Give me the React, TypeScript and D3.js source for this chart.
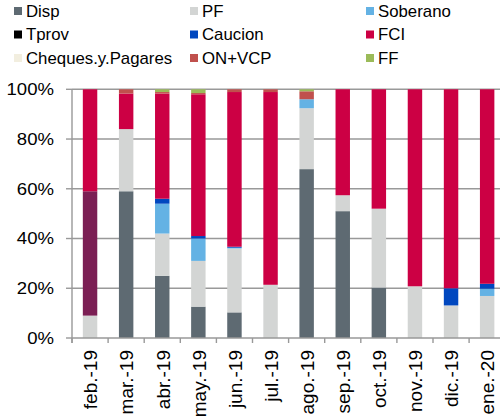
import React, { useEffect, useRef } from "react";
import * as d3 from "d3";

const months = ["feb.-19","mar.-19","abr.-19","may.-19","jun.-19","jul.-19","ago.-19","sep.-19","oct.-19","nov.-19","dic.-19","ene.-20"];
const seriesNames = ["Disp","PF","Soberano","Tprov","Caucion","Otro","FCI","Cheques.y.Pagares","ON+VCP","FF"];
const legendNames = ["Disp","PF","Soberano","Tprov","Caucion","FCI","Cheques.y.Pagares","ON+VCP","FF"];
const colors: Record<string,string> = {
  "Disp":"#5E6A72","PF":"#D3D5D4","Soberano":"#64B2E4","Tprov":"#000000","Caucion":"#0047BF",
  "Otro":"#7B1F54","FCI":"#CC0044","Cheques.y.Pagares":"#F2EEDF","ON+VCP":"#C0504D","FF":"#9BBB59"
};
const disp = [0,59,25,12.6,10.3,0,67.9,51,20.3,0,0,0];
const pf = [9,25,17,18.4,25.7,21.4,24.5,6.4,31.7,20.8,13.1,16.9];
const soberano = [0,0,12,9,0.3,0,3.6,0,0,0,0,2.9];
const tprov = [0,0,0,0,0,0,0,0,0,0,0,0];
const caucion = [0,0,2,1,0.4,0,0,0,0,0,6.9,2];
const otro = [50,0,0,0,0,0,0,0,0,0,0,0];
const fci = [41,14.3,42.3,57,62.2,77.5,0,42.6,48,79.2,80,78.2];
const cheques = [0,0,0,0,0,0,0,0,0,0,0,0];
const onvcp = [0,1.7,0.6,0.5,1.1,1.1,3.2,0,0,0,0,0];
const ff = [0,0,1.1,1.5,0,0,0.8,0,0,0,0,0];
const yTicks = [0,20,40,60,80,100];

export default function App() {
  const ref = useRef<SVGSVGElement>(null);
  useEffect(() => {
    const svg = d3.select(ref.current);
    svg.selectAll("*").remove();
    const font = "'Liberation Sans', Arial, sans-serif";
    const cols: Record<string, number[]> = {
      "Disp":disp,"PF":pf,"Soberano":soberano,"Tprov":tprov,"Caucion":caucion,"Otro":otro,
      "FCI":fci,"Cheques.y.Pagares":cheques,"ON+VCP":onvcp,"FF":ff
    };
    const rows = months.map((m, i) => {
      const r: any = { month: m };
      seriesNames.forEach(s => (r[s] = cols[s][i]));
      return r;
    });
    const stack = d3.stack<any>().keys(seriesNames)(rows);
    const left = 72, top = 89.3, bottom = 338;
    const step = 36.1;
    const x = d3.scaleBand<string>().domain(months).range([left, left + step * months.length]).paddingInner(0.6).paddingOuter(0.3);
    const y = d3.scaleLinear().domain([0, 100]).range([bottom, top]);
    const gridColor = "#999999";

    svg.append("g").selectAll("line").data(yTicks.slice(1)).join("line")
      .attr("x1", left).attr("x2", 500).attr("y1", d => y(d)).attr("y2", d => y(d))
      .attr("stroke", gridColor).attr("stroke-width", 1.4);

    const g = svg.append("g");
    stack.forEach(layer => {
      g.append("g").selectAll("rect").data(layer).join("rect")
        .attr("x", (d: any) => x(d.data.month)!)
        .attr("width", x.bandwidth())
        .attr("y", (d: any) => y(d[1]))
        .attr("height", (d: any) => Math.max(0, y(d[0]) - y(d[1])))
        .attr("fill", colors[layer.key]);
    });

    const ya = svg.append("g");
    ya.append("line").attr("x1", left).attr("x2", left).attr("y1", top).attr("y2", bottom + 5)
      .attr("stroke", gridColor).attr("stroke-width", 1.4);
    ya.selectAll("line.t").data(yTicks).join("line").attr("class", "t")
      .attr("x1", left - 6).attr("x2", left).attr("y1", d => y(d)).attr("y2", d => y(d))
      .attr("stroke", gridColor).attr("stroke-width", 1.4);
    ya.selectAll("text").data(yTicks).join("text")
      .attr("transform", d => `translate(54,${y(d)}) scale(1.14,1)`)
      .attr("dy", "0.36em")
      .attr("text-anchor", "end").attr("font-family", font).attr("font-size", 16.3).attr("fill", "#000")
      .text(d => d + "%");

    const xa = svg.append("g");
    xa.append("line").attr("x1", left).attr("x2", 500).attr("y1", bottom).attr("y2", bottom)
      .attr("stroke", gridColor).attr("stroke-width", 1.4);
    const bounds = months.map((_, i) => left + i * step).concat([left + months.length * step]);
    xa.selectAll("line.t").data(bounds).join("line").attr("class", "t")
      .attr("x1", d => d).attr("x2", d => d).attr("y1", bottom).attr("y2", bottom + 5)
      .attr("stroke", gridColor).attr("stroke-width", 1.4);
    xa.selectAll("text").data(months).join("text")
      .attr("transform", d => `translate(${x(d)! + x.bandwidth() / 2 + 7.3},350) rotate(-90)`)
      .attr("text-anchor", "end")
      .attr("font-family", font).attr("font-size", 19).attr("fill", "#000")
      .text(d => d);

    const colX = [14, 190, 366];
    const rowY = [11, 34.5, 58];
    const lg = svg.append("g");
    legendNames.forEach((n, i) => {
      const cx = colX[i % 3], cy = rowY[Math.floor(i / 3)];
      lg.append("rect").attr("x", cx).attr("y", cy - 4).attr("width", 8).attr("height", 8).attr("fill", colors[n]);
      lg.append("text").attr("transform", `translate(${cx + 12},${cy}) scale(1.05,1)`).attr("dy", "0.36em")
        .attr("font-family", font).attr("font-size", 16).attr("fill", "#000").text(n);
    });
  }, []);
  return (
    <svg ref={ref} width={500} height={419} style={{ position: "absolute", left: 0, top: 0, background: "#fff" }} />
  );
}
